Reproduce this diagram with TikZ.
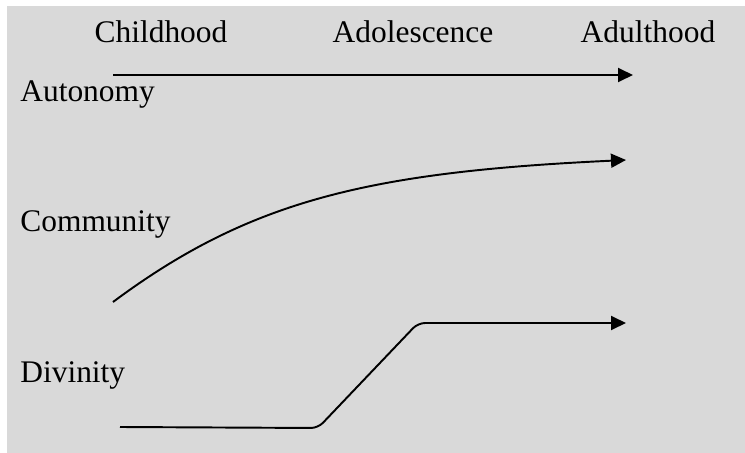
\documentclass[tikz,border=0pt]{standalone}
\usepackage{fontspec}
\setmainfont{Liberation Serif}
\usetikzlibrary{arrows.meta}
\definecolor{bggray}{RGB}{217,217,217}

\begin{document}
\begin{tikzpicture}[x=0.02cm,y=-0.02cm,
  lbl/.style={font=\fontsize{17.9}{21}\selectfont,inner sep=0pt},
  trend/.style={line width=1.1pt,-{Triangle[length=0.3cm,width=0.28cm]}}]
\useasboundingbox (0,0) rectangle (745,453);
\fill[bggray] (7,6) rectangle (745,453);
% stages
\node[lbl,anchor=base] (child) at (161,43) {Childhood};
\node[lbl,anchor=base] (adol) at (413,43) {Adolescence};
\node[lbl,anchor=base] (adult) at (648,43) {Adulthood};
% ethics
\node[lbl,anchor=base west] (auto) at (20,101) {Autonomy};
\node[lbl,anchor=base west] (comm) at (20,231) {Community};
\node[lbl,anchor=base west] (divi) at (20,382) {Divinity};
% line ends
\coordinate (a0) at (113,75);
\coordinate (a1) at (633,75);
\coordinate (c0) at (113,302);
\coordinate (c1) at (626,160);
\coordinate (d0) at (120,427);
\coordinate (d1) at (626,323);
\draw[trend] (a0) -- (a1);
\draw[trend] (c0) .. controls (250,200) and (370,172) .. (c1);
\draw[trend,rounded corners=4pt] (d0) -- (318,428) -- (418,323) -- (d1);
\end{tikzpicture}
\end{document}
